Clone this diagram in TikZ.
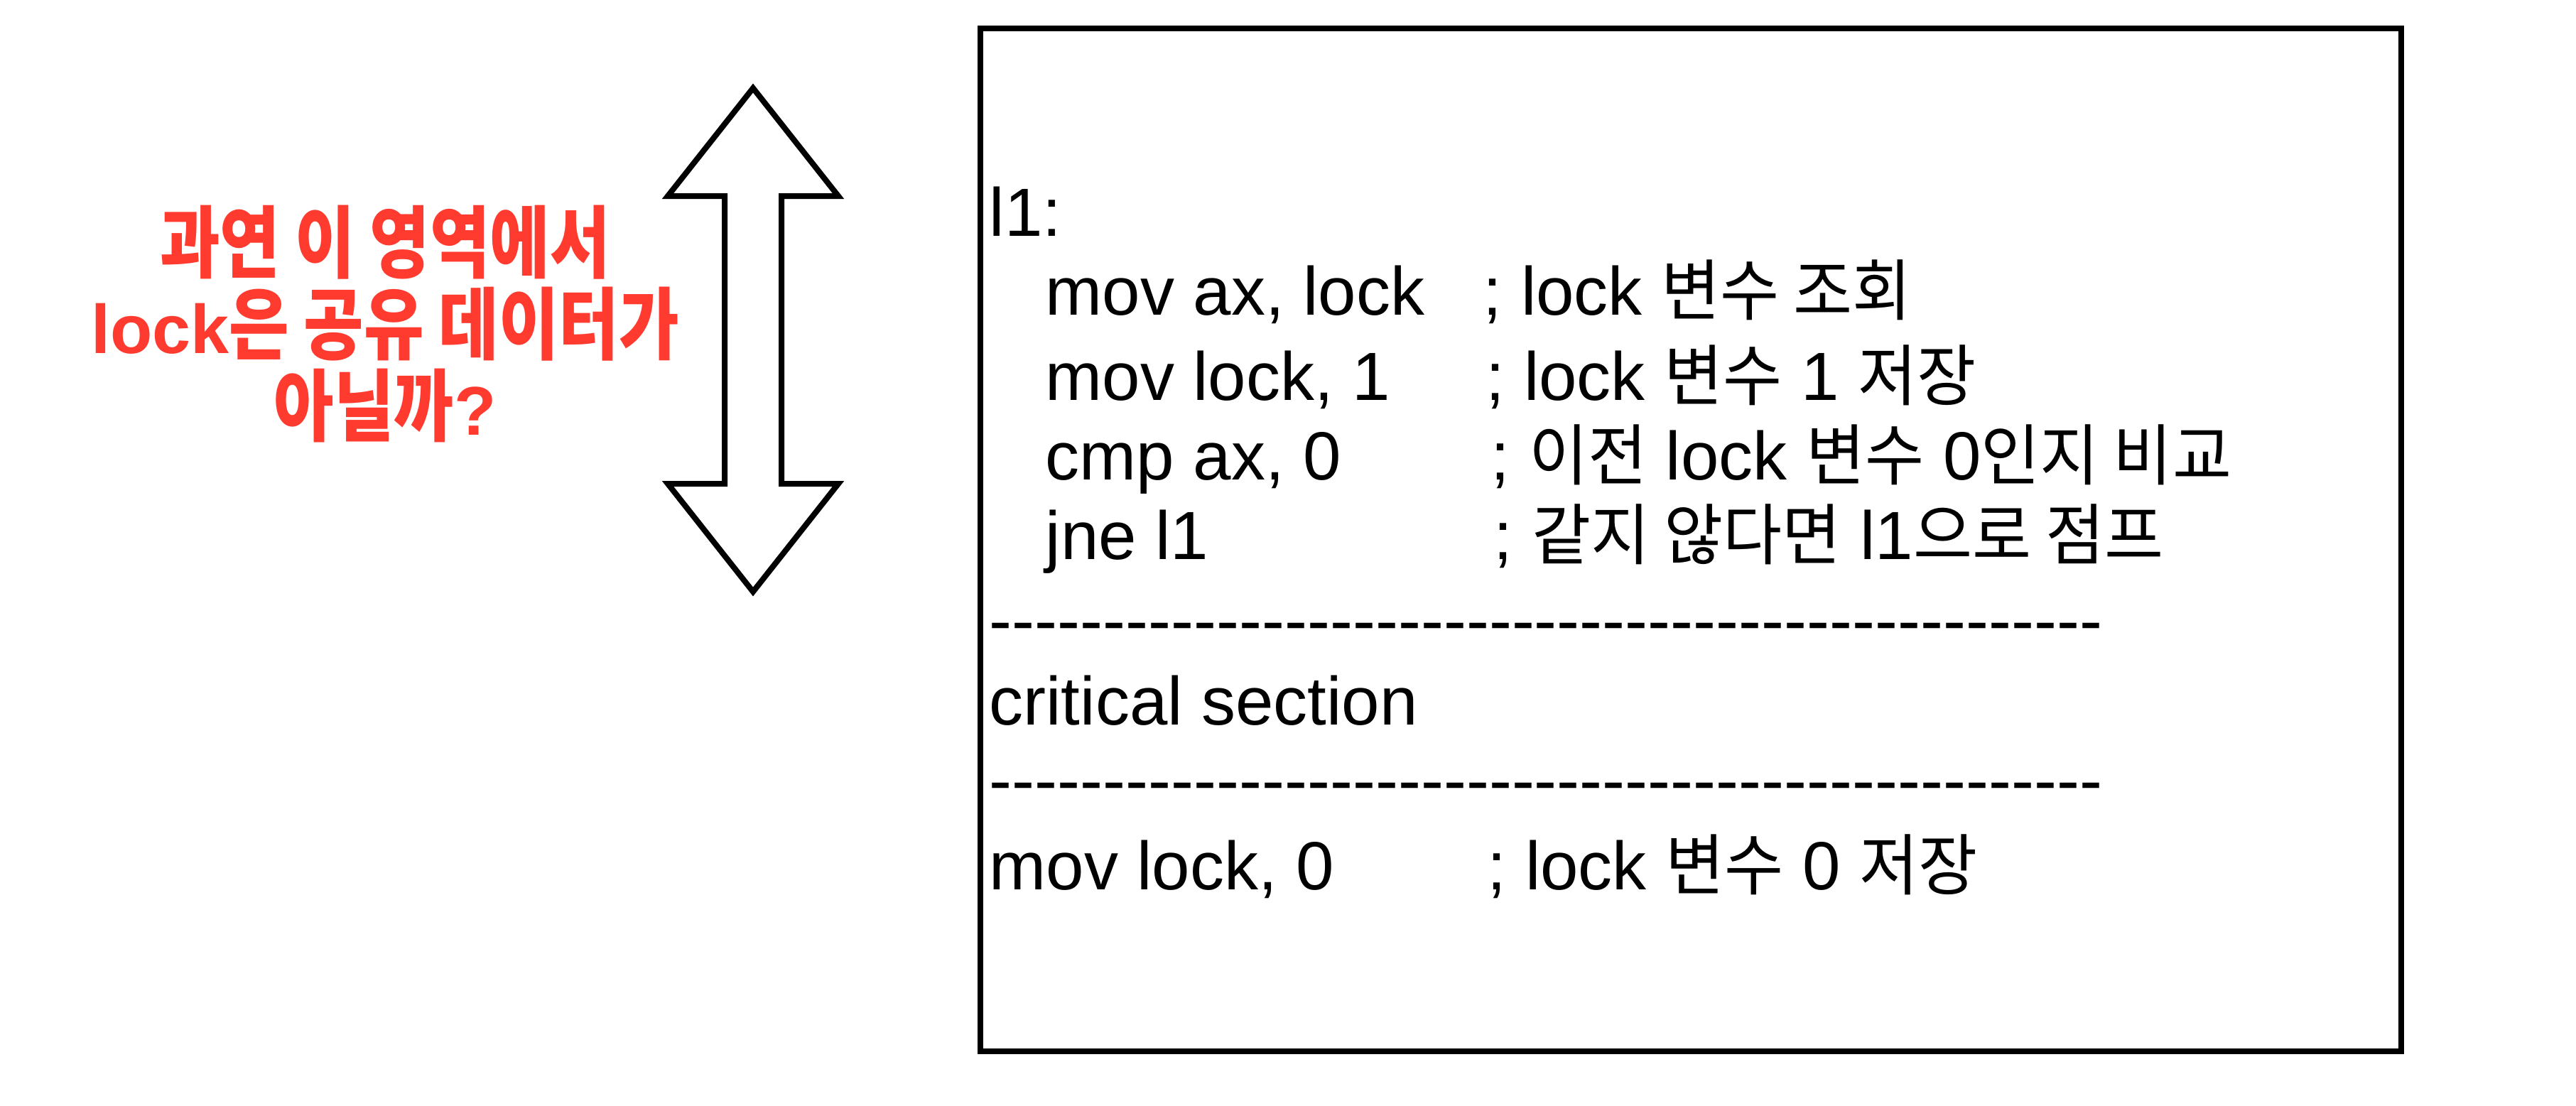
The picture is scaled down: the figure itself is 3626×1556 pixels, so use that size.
\documentclass[tikz,border=0pt]{standalone}
\usepackage{fontspec}
\setmainfont{Liberation Sans}
\newfontfamily\kr[Scale=0.98,FakeStretch=0.96]{Noto Sans CJK KR}
\newfontfamily\krb[Scale=1.14,FakeStretch=0.83]{Noto Sans CJK KR Bold}
\definecolor{askred}{HTML}{FF3B30}
\newcommand{\dashrow}{\foreach \i in {1,...,49}{-}}

\begin{document}
\begin{tikzpicture}[x=0.01cm,y=-0.01cm,
  outline/.style={line width=2.28pt,miter limit=10},
  code/.style={anchor=base west,inner sep=0pt,font=\fontsize{27.3pt}{32pt}\selectfont},
  ask/.style={anchor=base,align=center,inner sep=0pt,text=askred,font=\bfseries\fontsize{27.6pt}{32.7pt}\selectfont}]
  \useasboundingbox (0,0) rectangle (3626,1556);

  % question on the left (base = last line)
  \node[ask] (q) at (542,612) {{\krb 과연 이 영역에서}\\lock{\krb 은 공유 데이터가}\\{\krb 아닐까}?};

  % double arrow
  \draw[outline] (1060,124) -- (1180,276) -- (1100,276) -- (1100,681) -- (1180,681) -- (1060,833)
    -- (940,681) -- (1020,681) -- (1020,276) -- (940,276) -- cycle;

  % code box
  \draw[outline] (1380,39.5) rectangle (3380,1480);
  \node[code] (l1) at (1392,332) {l1:};
  \node[code] (c1) at (1471,443) {mov ax, lock};
  \node[code] (m1) at (2087,443) {; lock {\kr 변수 조회}};
  \node[code] (c2) at (1471,563) {mov lock, 1};
  \node[code] (m2) at (2091,563) {; lock {\kr 변수} 1 {\kr 저장}};
  \node[code] (c3) at (1471,675) {cmp ax, 0};
  \node[code] (m3) at (2098,675) {; {\kr 이전} lock {\kr 변수} 0{\kr 인지 비교}};
  \node[code] (c4) at (1471,787) {jne l1};
  \node[code] (m4) at (2102,787) {; {\kr 같지 않다면} l1{\kr 으로 점프}};
  \node[code] (d1) at (1392,906) {\dashrow};
  \node[code] (cs) at (1392,1020) {critical section};
  \node[code] (d2) at (1392,1131) {\dashrow};
  \node[code] (c5) at (1392,1252) {mov lock, 0};
  \node[code] (m5) at (2093,1252) {; lock {\kr 변수} 0 {\kr 저장}};
\end{tikzpicture}
\end{document}
